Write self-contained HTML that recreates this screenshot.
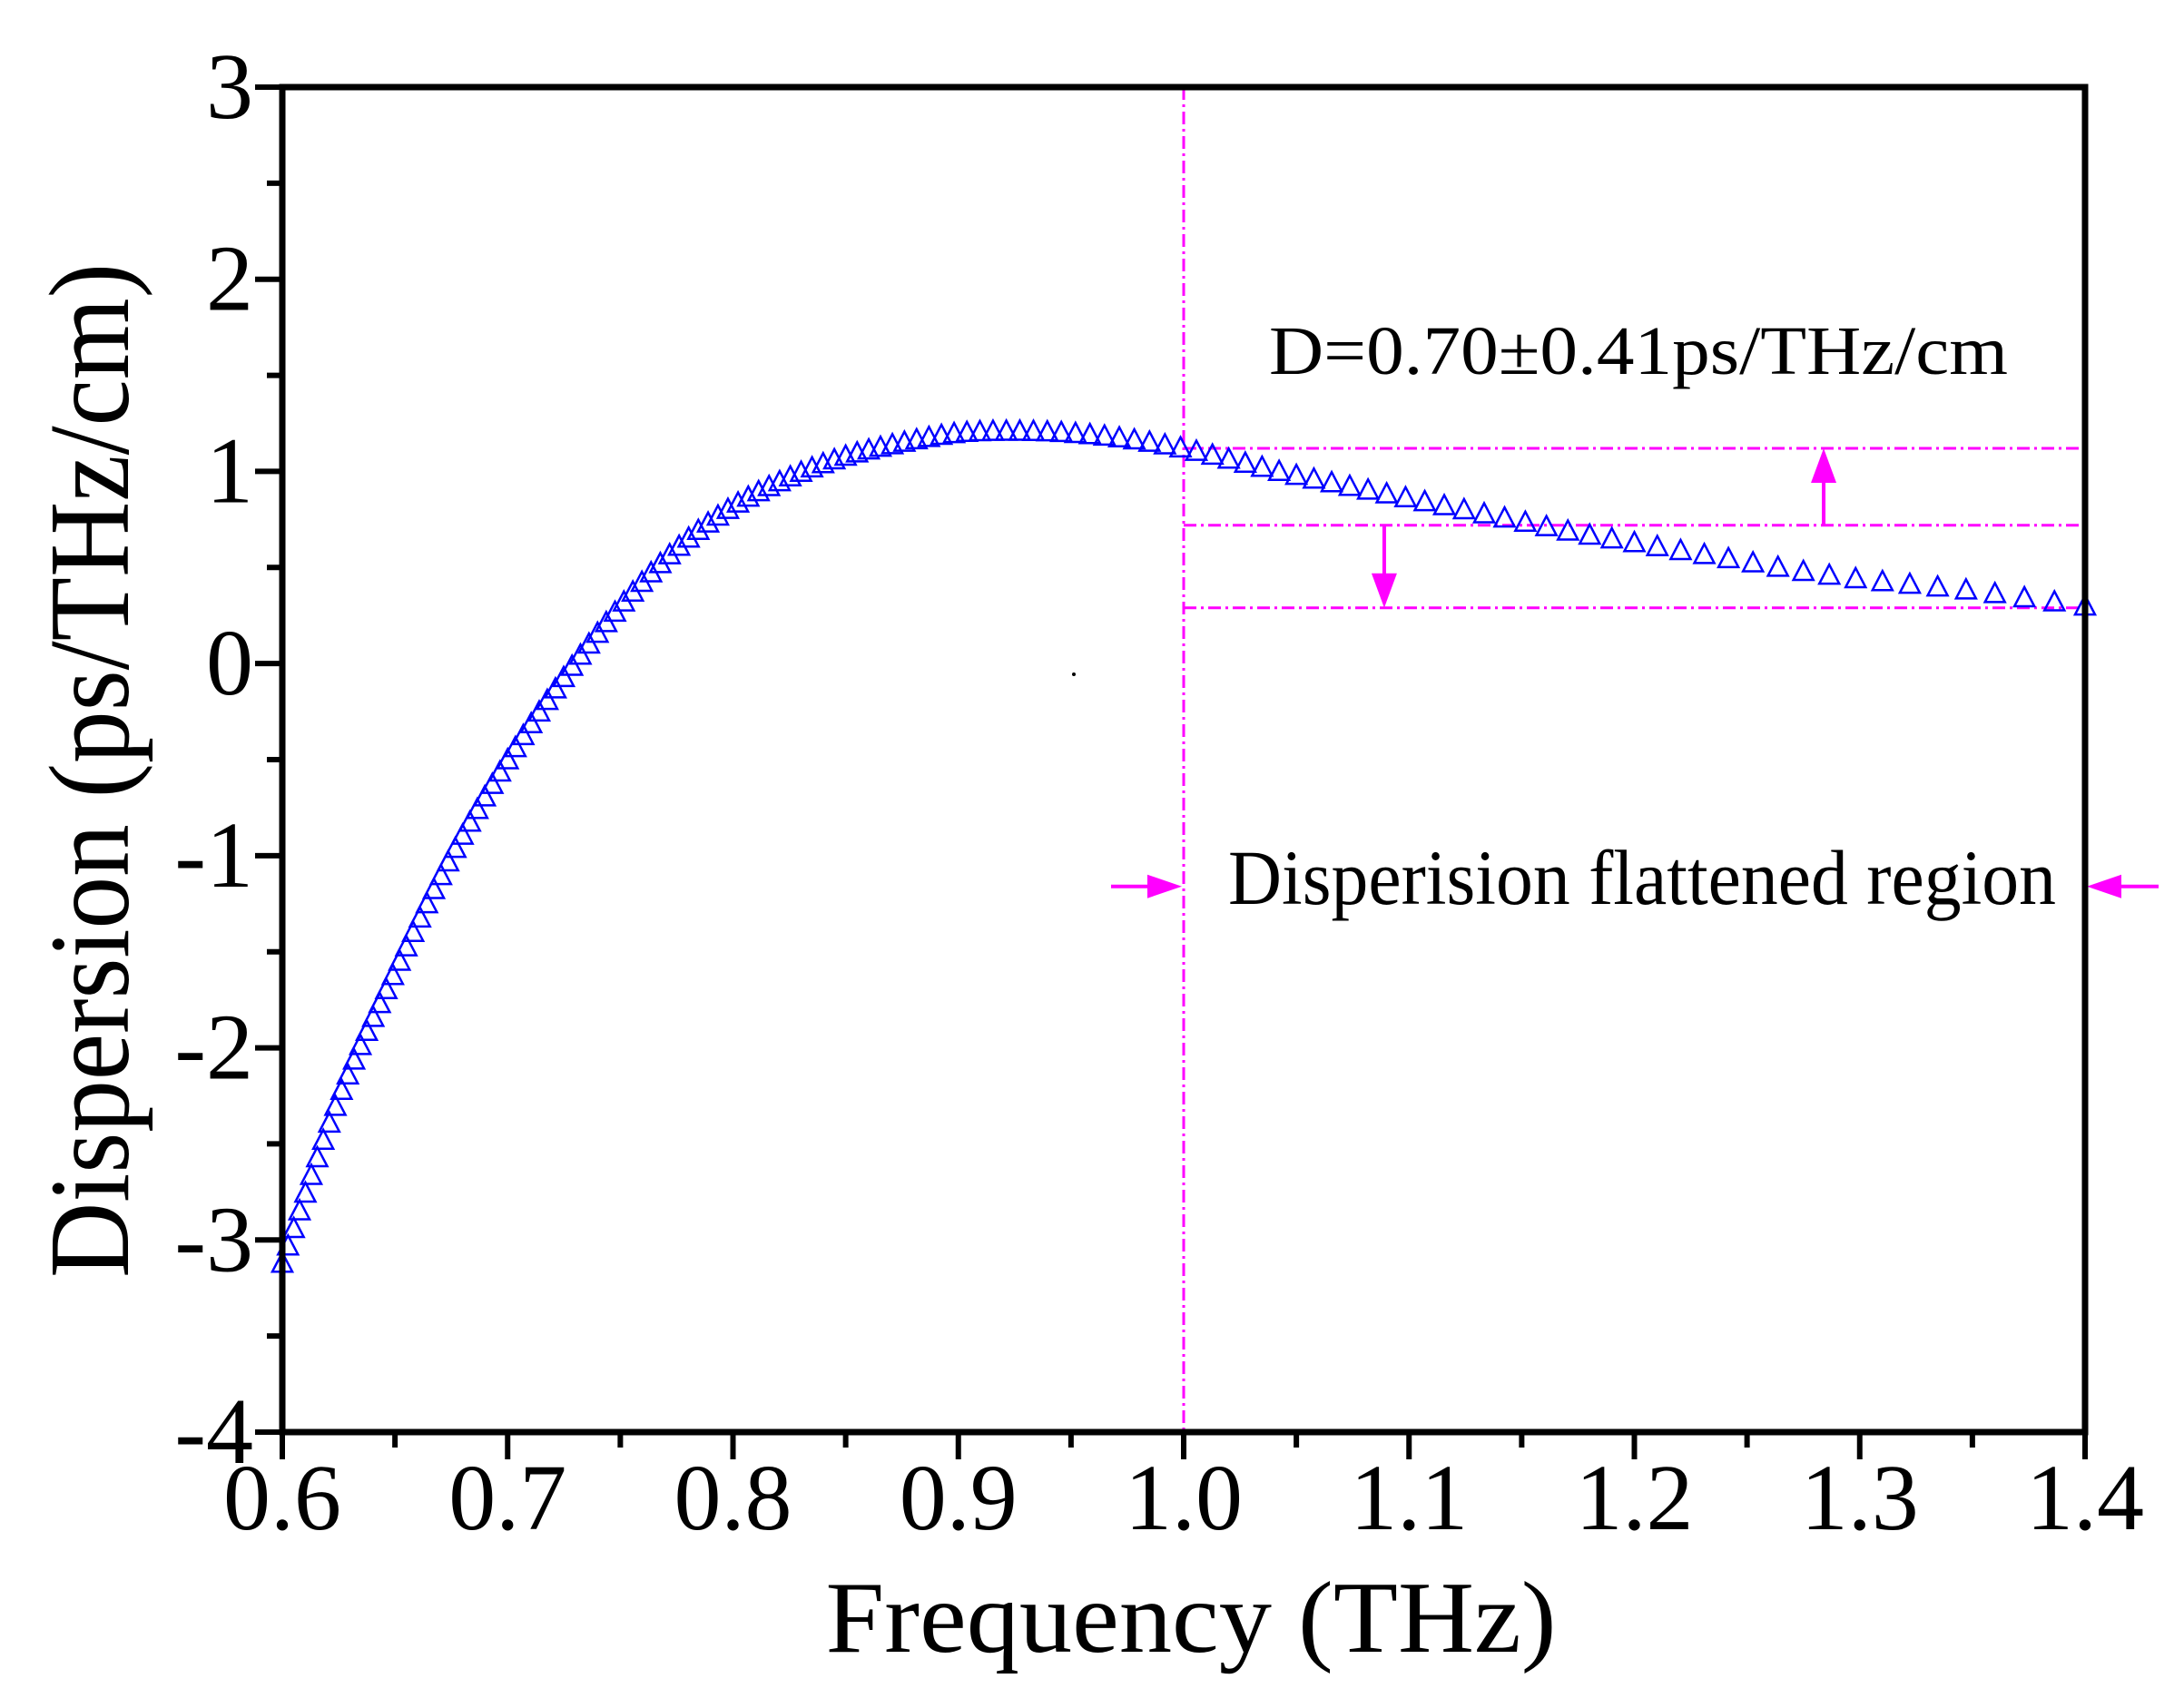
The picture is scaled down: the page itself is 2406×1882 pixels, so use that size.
<!DOCTYPE html>
<html><head><meta charset="utf-8"><style>
html,body{margin:0;padding:0;background:#fff;}
svg{display:block;}
text{font-family:"Liberation Serif",serif;fill:#000;}
</style></head><body>
<svg id="chart" width="2406" height="1882" viewBox="0 0 2406 1882" xmlns="http://www.w3.org/2000/svg">
<rect x="0" y="0" width="2406" height="1882" fill="#fff"/>
<g id="annot"></g>
<g id="series"></g>
<g id="axes"></g>
<text x="1805" y="412" font-size="76" text-anchor="middle" textLength="814" lengthAdjust="spacingAndGlyphs">D=0.70±0.41ps/THz/cm</text>
<text x="1353" y="996" font-size="86" textLength="912" lengthAdjust="spacingAndGlyphs">Disperision flattened region</text>
<text x="1312" y="1820" font-size="112" text-anchor="middle" textLength="805" lengthAdjust="spacingAndGlyphs">Frequency (THz)</text>
<text transform="translate(141,849) rotate(-90)" x="0" y="0" font-size="126" text-anchor="middle" textLength="1118" lengthAdjust="spacingAndGlyphs">Dispersion (ps/THz/cm)</text>
<circle cx="1183" cy="743" r="2" fill="#000"/>
</svg>
<script>
const freqs = [0.600,0.625,0.650,0.675,0.700,0.725,0.750,0.775,0.800,0.825,0.850,0.875,0.900,0.925,0.950,0.975,1.000,1.025,1.050,1.075,1.100,1.125,1.150,1.175,1.200,1.225,1.250,1.275,1.300,1.325,1.350,1.375,1.400];
const dispersion = [-3.12,-2.26,-1.60,-1.00,-0.50,-0.07,0.30,0.60,0.82,0.97,1.08,1.15,1.20,1.21,1.20,1.17,1.12,1.05,0.98,0.92,0.86,0.80,0.74,0.68,0.63,0.58,0.53,0.48,0.44,0.41,0.38,0.34,0.30];
const xTicks = [0.6,0.7,0.8,0.9,1.0,1.1,1.2,1.3,1.4];
const xTickLabels = ["0.6","0.7","0.8","0.9","1.0","1.1","1.2","1.3","1.4"];
const yTicks = [-4,-3,-2,-1,0,1,2,3];
const yTickLabels = ["-4","-3","-2","-1","0","1","2","3"];
const bandLevels = [1.12,0.72,0.29];
const regionStart = 1.0;
const arrowUpX = 1.284;
const arrowDownX = 1.089;
const regionArrowY = -1.16;
const markerCount = 136;

const NS="http://www.w3.org/2000/svg";
const L=311,R=2297,T=96,B=1578;
const xMin=0.6,xMax=1.4,yMin=-4,yMax=3;
const sx=v=>L+(v-xMin)/(xMax-xMin)*(R-L);
const sy=v=>B-(v-yMin)/(yMax-yMin)*(B-T);
function mk(tag,attrs,parent){const e=document.createElementNS(NS,tag);for(const k in attrs)e.setAttribute(k,attrs[k]);parent.appendChild(e);return e;}

// annotations
const an=document.getElementById('annot');
const MAG="#ff00ff";
const dash="14 5 3 5";
let e=mk('line',{x1:sx(regionStart),x2:sx(regionStart),y1:T,y2:B,stroke:MAG,'stroke-width':3,'stroke-dasharray':dash},an);


bandLevels.forEach((v,i)=>{
  const l=mk('line',{x1:sx(regionStart),x2:R,y1:sy(v),y2:sy(v),stroke:MAG,'stroke-width':3,'stroke-dasharray':dash},an);
  
  
});
function vArrow(x,fromV,toV,name){
  const X=sx(x),y0=sy(fromV),y1=sy(toV),dir=y1>y0?1:-1;
  const g=mk('g',{},an);
  
  
  mk('line',{x1:X,x2:X,y1:y0,y2:y1-dir*36,stroke:MAG,'stroke-width':4},g);
  mk('polygon',{points:`${X-14},${y1-dir*38} ${X+14},${y1-dir*38} ${X},${y1}`,fill:MAG},g);
}
vArrow(arrowUpX,bandLevels[1],bandLevels[0],'up-arrow');
vArrow(arrowDownX,bandLevels[1],bandLevels[2],'down-arrow');
function hArrow(xFrom,xTo,y,name){
  const Y=sy(y),dir=xTo>xFrom?1:-1;
  const g=mk('g',{},an);
  
  
  mk('line',{x1:xFrom,x2:xTo-dir*36,y1:Y,y2:Y,stroke:MAG,'stroke-width':4},g);
  mk('polygon',{points:`${xTo-dir*38},${Y-13} ${xTo-dir*38},${Y+13} ${xTo},${Y}`,fill:MAG},g);
}
hArrow(1224,sx(regionStart)-2,regionArrowY,'region-left-arrow');
hArrow(2378,R+2,regionArrowY,'region-right-arrow');

// series: smooth path through data, triangle markers uniform in 1/f
const se=document.getElementById('series');
const pts=freqs.map((f,i)=>[sx(f),sy(dispersion[i])]);
let d=`M${pts[0][0]},${pts[0][1]}`;
for(let i=0;i<pts.length-1;i++){
  const p0=pts[Math.max(0,i-1)],p1=pts[i],p2=pts[i+1],p3=pts[Math.min(pts.length-1,i+2)];
  const c1=[p1[0]+(p2[0]-p0[0])/6,p1[1]+(p2[1]-p0[1])/6];
  const c2=[p2[0]-(p3[0]-p1[0])/6,p2[1]-(p3[1]-p1[1])/6];
  d+=` C${c1[0]},${c1[1]} ${c2[0]},${c2[1]} ${p2[0]},${p2[1]}`;
}
const path=mk('path',{d:d,fill:'none',stroke:'none'},se);


const len=path.getTotalLength();
function pointAtX(X){
  let lo=0,hi=len;
  for(let k=0;k<40;k++){const m=(lo+hi)/2;if(path.getPointAtLength(m).x<X)lo=m;else hi=m;}
  return path.getPointAtLength((lo+hi)/2);
}
const f0=freqs[0],f1=freqs[freqs.length-1];
for(let i=0;i<=markerCount;i++){
  const inv=1/f0+(1/f1-1/f0)*i/markerCount;
  const p=pointAtX(sx(1/inv));
  const tri=mk('polygon',{points:`${p.x-11},${p.y+9.5} ${p.x+11},${p.y+9.5} ${p.x},${p.y-11.5}`,fill:'none',stroke:'#0000ff','stroke-width':2.5},se);
  
  
}

// axes
const ax=document.getElementById('axes');
const frame=mk('rect',{x:L,y:T,width:R-L,height:B-T,fill:'none',stroke:'#000','stroke-width':7},ax);


xTicks.forEach((v,i)=>{
  const X=sx(v);
  const t=mk('line',{x1:X,x2:X,y1:B,y2:B+30,stroke:'#000','stroke-width':6},ax);
  
  
  if(i<xTicks.length-1){
    const Xm=sx(v+0.05);
    const m=mk('line',{x1:Xm,x2:Xm,y1:B,y2:B+17,stroke:'#000','stroke-width':6},ax);
    
    
  }
  const lb=mk('text',{x:X,y:1685,'font-size':104,'text-anchor':'middle'},ax);
  lb.textContent=xTickLabels[i];
  
  
});
yTicks.forEach((v,i)=>{
  const Y=sy(v);
  const t=mk('line',{x1:L-30,x2:L,y1:Y,y2:Y,stroke:'#000','stroke-width':6},ax);
  
  
  if(i<yTicks.length-1){
    const Ym=sy(v+0.5);
    const m=mk('line',{x1:L-17,x2:L,y1:Ym,y2:Ym,stroke:'#000','stroke-width':6},ax);
    
    
  }
  const lb=mk('text',{x:279,y:Y+34,'font-size':104,'text-anchor':'end'},ax);
  lb.textContent=yTickLabels[i];
  
  
});
</script>
</body></html>
